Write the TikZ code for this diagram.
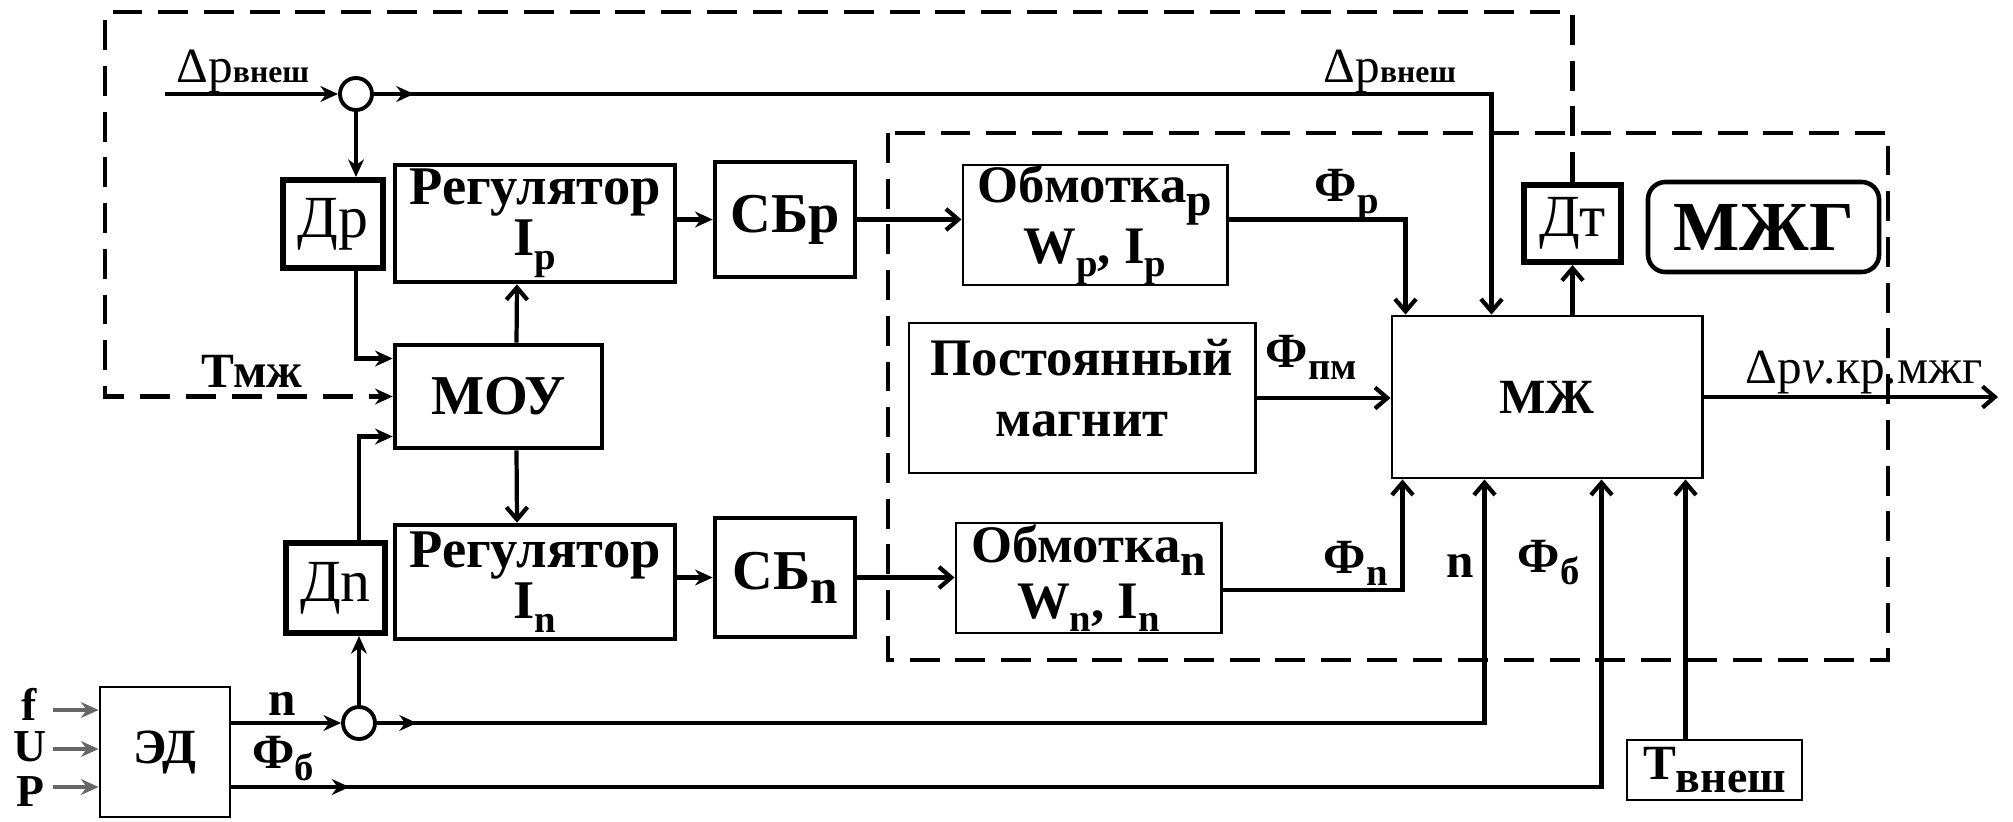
\documentclass[tikz,border=0pt]{standalone}
\usepackage{fontspec}
\setmainfont{Liberation Serif}
\usepackage{tikz}
\usetikzlibrary{shapes, arrows.meta, positioning, calc}

\newcommand{\lowsub}[2][11]{\raisebox{-0.25em}{\fontsize{#1}{#1}\selectfont #2}}

\begin{document}
\begin{tikzpicture}[
        x=0.01cm, y=-0.01cm,
        blk/.style={
            rectangle,
            draw,
            line width=1.3pt,
            inner sep=0pt,
            align=center,
            font=\bfseries\fontsize{15.5}{13}\selectfont
        },
        thinblk/.style={blk, line width=0.8pt, font=\bfseries\fontsize{15}{16}\selectfont},
        sensor/.style={
            rectangle,
            draw,
            line width=1.7pt,
            inner sep=0pt,
            font=\fontsize{17}{19}\selectfont
        },
        sum/.style={circle, draw, line width=1.1pt, minimum size=0.32cm, inner sep=0pt},
        line/.style={line width=1.2pt},
        arf/.style={-{Stealth[length=5pt, width=4.5pt]}},
        arb/.style={-{Straight Barb[length=3.5pt, width=6pt]}},
        dashline/.style={line width=1.3pt, dash pattern=on 8.5pt off 4.5pt},
        lbl/.style={inner sep=0pt, font=\bfseries\fontsize{14}{16}\selectfont},
        sig/.style={inner sep=0pt, font=\fontsize{14}{16}\selectfont}
    ]
        \useasboundingbox (0,0) rectangle (2013,821);

        % Control part
        \node[sensor, minimum width=1.00cm, minimum height=0.88cm] (dr) at (333,224) {Др};
        \node[sensor, minimum width=0.99cm, minimum height=0.90cm] (dn) at (335.5,588) {Дn};
        \node[blk, minimum width=2.80cm, minimum height=1.17cm] (reg_p) at (535,223.5) {Регулятор\\I\lowsub{p}};
        \node[blk, minimum width=2.07cm, minimum height=1.03cm, font=\bfseries\fontsize{16}{18}\selectfont] (mou) at (498.5,396.5) {МОУ};
        \node[blk, minimum width=2.80cm, minimum height=1.14cm] (reg_n) at (535,582) {Регулятор\\I\lowsub{n}};
        \node[blk, minimum width=1.40cm, minimum height=1.15cm, font=\bfseries\fontsize{16}{18}\selectfont] (sb_p) at (785,219.5) {СБр};
        \node[blk, minimum width=1.40cm, minimum height=1.19cm, font=\bfseries\fontsize{16}{18}\selectfont] (sb_n) at (785,577.5) {СБ\lowsub[14]{n}};

        % Magnetic fluid part
        \node[thinblk, minimum width=2.64cm, minimum height=1.20cm] (obm_p) at (1095,225) {Обмотка\lowsub[13]{p}\\W\lowsub{p}, I\lowsub{p}};
        \node[thinblk, minimum width=3.46cm, minimum height=1.50cm, text depth=0.2cm,
              font=\bfseries\fontsize{15}{17.5}\selectfont] (magnet) at (1082,398) {Постоянный\\магнит};
        \node[thinblk, minimum width=2.65cm, minimum height=1.10cm] (obm_n) at (1088.5,578) {Обмотка\lowsub[13]{n}\\W\lowsub{n}, I\lowsub{n}};
        \node[thinblk, minimum width=3.10cm, minimum height=1.62cm, font=\bfseries\fontsize{14}{16}\selectfont] (mzh) at (1547,397) {МЖ};
        \node[sensor, minimum width=0.97cm, minimum height=0.77cm] (dt) at (1572.5,223.5) {Дт};
        \node[blk, rounded corners=5pt, minimum width=2.31cm, minimum height=0.90cm, font=\bfseries\fontsize{20}{22}\selectfont] (mzhg) at (1763.5,227) {МЖГ};
        \node[thinblk, minimum width=1.75cm, minimum height=0.60cm, font=\bfseries\fontsize{14}{16}\selectfont] (t_ext) at (1714.5,770) {Т\lowsub[13]{внеш}};
        \node[thinblk, minimum width=1.30cm, minimum height=1.30cm, font=\bfseries\fontsize{14}{16}\selectfont] (ed) at (165,752) {ЭД};

        % Branch points
        \node[sum] (sum_top) at (356,94) {};
        \node[sum] (sum_bot) at (359,723) {};

        % Free ends and inputs of the MZh block
        \coordinate (in_dp) at (165,94);
        \coordinate (fb_corner) at (105,12);
        \coordinate (out_end) at (1998,397);
        \coordinate (in_f) at (53,710);
        \coordinate (in_u) at (53,749);
        \coordinate (in_p) at (53,787);
        \coordinate (mzh_dp) at ($(mzh.north west)+(101,0)$);
        \coordinate (mzh_fp) at ($(mzh.north west)+(15,0)$);
        \coordinate (mzh_fn) at ($(mzh.south west)+(12,0)$);
        \coordinate (mzh_n) at ($(mzh.south west)+(94,0)$);
        \coordinate (mzh_fb) at ($(mzh.south west)+(211,0)$);
        \coordinate (mzh_t) at ($(mzh.south west)+(295,0)$);

        % Dashed frame of the generator
        \draw[dashline] (888,133) rectangle (1888,660);

        % Connections
        \draw[line, arf] (in_dp) -- (sum_top.west);
        \draw[line, arb] (sum_top.east) -| (mzh_dp);
        \draw[line, arf] (sum_top.east) -- ++(40,0);
        \draw[line, arf] (sum_top.south) -- (sum_top |- dr.north);
        \draw[line, arf] (sum_top |- dr.south) |- ($(mou.west)+(0,-38)$);
        \draw[dashline, arf] (dt.north) |- (fb_corner) |- (mou.west);
        \draw[line, arf] (sum_bot |- dn.north) |- ($(mou.west)+(0,40)$);
        \draw[line, arb] ($(mou.north)+(18,0)$) -- ($(reg_p.south)+(-18,0)$);
        \draw[line, arb] ($(mou.south)+(18,0)$) -- ($(reg_n.north)+(-18,0)$);
        \draw[line, arf] (reg_p.east |- sb_p) -- (sb_p.west);
        \draw[line, arf] (reg_n.east |- sb_n) -- (sb_n.west);
        \draw[line, arb] (sb_p.east) -- (sb_p.east -| obm_p.west);
        \draw[line, arb] (sb_n.east) -- (sb_n.east -| obm_n.west);
        \draw[line, arb] (obm_p.east |- sb_p.east) -| (mzh_fp);
        \draw[line, arb] (magnet.east) -- (magnet.east -| mzh.west);
        \draw[line, arb] ($(obm_n.east)+(0,12)$) -| (mzh_fn);
        \draw[line, arb] (mzh.north -| dt.south) -- (dt.south);
        \draw[line, arb] (mzh.east) -- (out_end);

        % Drive outputs
        \draw[line, arf] (ed.east |- sum_bot) -- (sum_bot.west);
        \draw[line, arb] (sum_bot.east) -| (mzh_n);
        \draw[line, arf] (sum_bot.east) -- ++(40,0);
        \draw[line, arf] (sum_bot.north) -- (sum_bot |- dn.south);
        \draw[line, arb] ($(ed.east)+(0,35)$) -| (mzh_fb);
        \draw[line, arf] ($(ed.east)+(0,35)$) -- ++(118,0);
        \draw[line, arb] (mzh_t |- t_ext.north) -- (mzh_t);

        % Supply of the drive
        \draw[line, black!60, arf] (in_f) -- (in_f -| ed.west);
        \draw[line, black!60, arf] (in_u) -- (in_u -| ed.west);
        \draw[line, black!60, arf] (in_p) -- (in_p -| ed.west);

        % Signal labels
        \node[sig, anchor=base west] (lbl_dp_in) at (176,82) {Δp{\bfseries\fontsize{9}{9}\selectfont внеш}};
        \node[sig, anchor=base west] (lbl_dp_mzh) at (1323,82) {Δp{\bfseries\fontsize{9}{9}\selectfont внеш}};
        \node[sig, anchor=base west] (lbl_out) at (1745,383) {Δp{\itshape v}.кр.мжг};
        \node[lbl, anchor=base] (lbl_tmzh) at (252,387) {Тмж};
        \node[lbl, anchor=base west] (lbl_fp) at (1314,201) {Ф\lowsub{p}};
        \node[lbl, anchor=base west] (lbl_fpm) at (1265,367) {Ф\lowsub{пм}};
        \node[lbl, anchor=base west] (lbl_fn) at (1323,573) {Ф\lowsub{n}};
        \node[lbl, anchor=base west] (lbl_n_mzh) at (1446,577) {n};
        \node[lbl, anchor=base west] (lbl_fb_mzh) at (1517,572) {Ф\lowsub{б}};
        \node[lbl, anchor=base west] (lbl_n_ed) at (268,715) {n};
        \node[lbl, anchor=base west] (lbl_fb_ed) at (252,768) {Ф\lowsub{б}};
        \node[lbl, anchor=base, font=\bfseries\fontsize{13}{15}\selectfont] (lbl_f) at (29,720) {f};
        \node[lbl, anchor=base, font=\bfseries\fontsize{13}{15}\selectfont] (lbl_u) at (30,761) {U};
        \node[lbl, anchor=base, font=\bfseries\fontsize{13}{15}\selectfont] (lbl_p) at (30,806) {P};

\end{tikzpicture}
\end{document}
